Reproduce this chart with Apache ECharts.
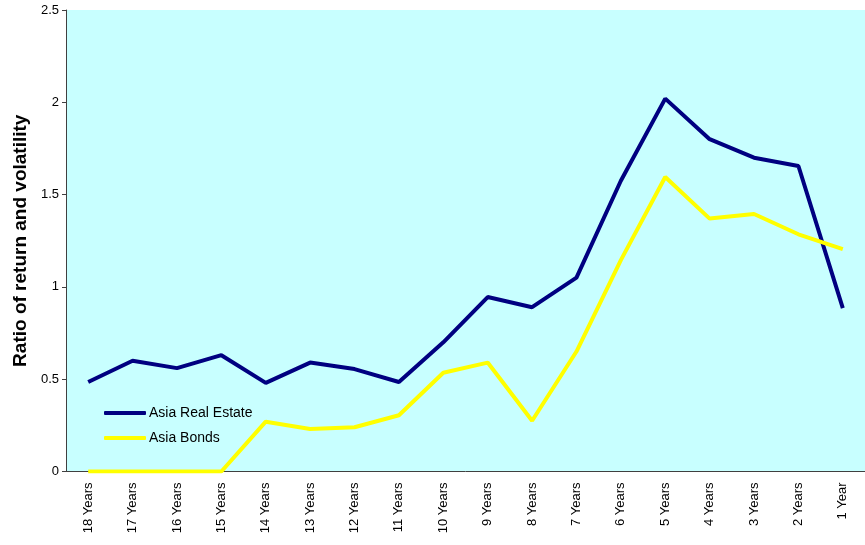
<!DOCTYPE html>
<html>
<head>
<meta charset="utf-8">
<script src="https://cdn.jsdelivr.net/npm/echarts@6/dist/echarts.min.js"></script>
<style>html,body{margin:0;padding:0;background:#fff}#c{width:865px;height:545px}</style>
</head>
<body>
<div id="c"></div>
<script>
var categories = ["18 Years","17 Years","16 Years","15 Years","14 Years","13 Years","12 Years","11 Years","10 Years","9 Years","8 Years","7 Years","6 Years","5 Years","4 Years","3 Years","2 Years","1 Year"];
var realEstate = [0.485,0.60,0.56,0.63,0.48,0.59,0.555,0.485,0.70,0.945,0.89,1.05,1.575,2.02,1.80,1.70,1.655,0.885];
var bonds = [0,0,0,0,0.27,0.23,0.24,0.305,0.535,0.59,0.275,0.65,1.145,1.595,1.37,1.395,1.285,1.205];
var yTicks = [0,0.5,1,1.5,2,2.5];

var chart = echarts.init(document.getElementById('c'));
chart.setOption({
  animation: false,
  textStyle: {fontFamily: 'Liberation Sans, Arial, sans-serif'},
  grid: {left: 66, right: 0, top: 10, bottom: 73.5, containLabel: false, outerBoundsMode: 'none',
         show: true, backgroundColor: '#C8FFFF', borderWidth: 0},
  legend: {
    orient: 'vertical', left: 99, top: 401, itemWidth: 42, itemHeight: 4, itemGap: 11,
    icon: 'roundRect',
    textStyle: {fontSize: 14, color: '#000', padding: [0,0,0,-2]},
    data: ['Asia Real Estate','Asia Bonds']
  },
  xAxis: {
    type: 'category', data: categories, boundaryGap: true,
    axisLine: {lineStyle: {color: '#404040', width: 1}},
    axisTick: {show: false},
    axisLabel: {rotate: 90, fontSize: 13, color: '#000', margin: 11, interval: 0}
  },
  yAxis: {
    type: 'value', min: 0, max: 2.5, interval: 0.5,
    name: 'Ratio of return and volatility', nameLocation: 'middle', nameGap: 35,
    nameTextStyle: {fontSize: 19, fontWeight: 'bold', color: '#000'},
    axisLine: {show: true, lineStyle: {color: '#404040', width: 1}},
    axisTick: {show: true, length: 4, lineStyle: {color: '#404040'}},
    splitLine: {show: false},
    axisLabel: {fontSize: 13, color: '#000', margin: 7,
      formatter: function(v){ return yTicks.indexOf(v) >= 0 ? String(v) : ''; }}
  },
  series: [
    {name: 'Asia Real Estate', type: 'line', data: realEstate, symbol: 'none',
     lineStyle: {color: '#000080', width: 4}, itemStyle: {color: '#000080'}},
    {name: 'Asia Bonds', type: 'line', data: bonds, symbol: 'none',
     lineStyle: {color: '#FFFF00', width: 4}, itemStyle: {color: '#FFFF00'}}
  ]
});
</script>
</body>
</html>
